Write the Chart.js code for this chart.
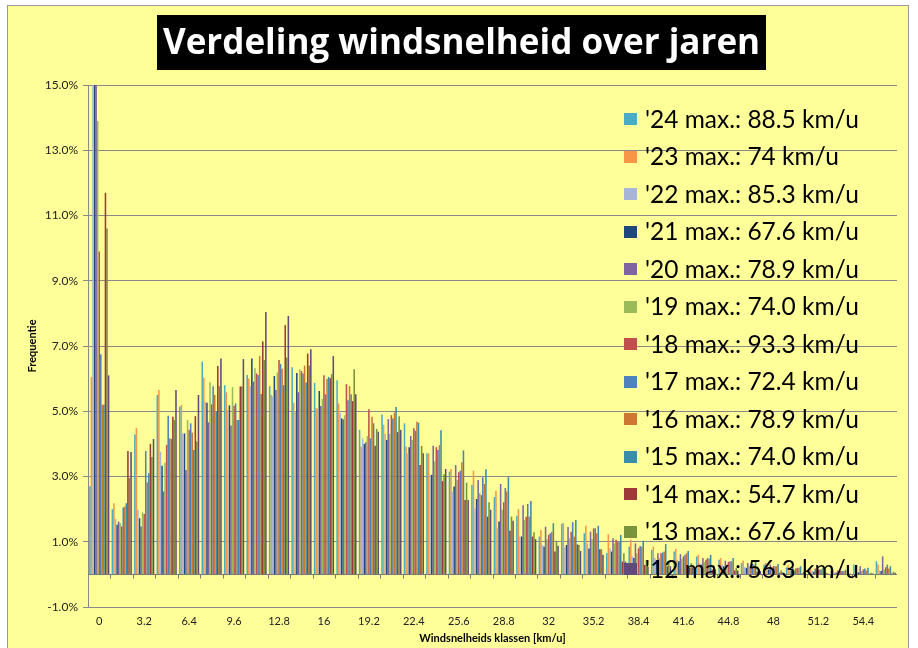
<!DOCTYPE html>
<html>
<head>
<meta charset="utf-8">
<script src="https://cdn.jsdelivr.net/npm/chart.js@4.4.1/dist/chart.umd.min.js"></script>
<style>
  html, body { margin: 0; padding: 0; background: #fff; }
</style>
</head>
<body>
<canvas id="chart" width="918" height="648"></canvas>
<script>
// windsnelheid klassen (km/u)
const categories = ['0', '1.6', '3.2', '4.8', '6.4', '8', '9.6', '11.2', '12.8', '14.4', '16', '17.6',
  '19.2', '20.8', '22.4', '24', '25.6', '27.2', '28.8', '30.4', '32', '33.6', '35.2', '36.8',
  '38.4', '40', '41.6', '43.2', '44.8', '46.4', '48', '49.6', '51.2', '52.8', '54.4', '56'];

const years = ["'24", "'23", "'22", "'21", "'20", "'19", "'18", "'17", "'16", "'15", "'14", "'13", "'12"];
const maxSpeeds = ['88.5', '74', '85.3', '67.6', '78.9', '74.0', '93.3', '72.4', '78.9', '74.0', '54.7', '67.6', '56.3'];
const colors = ['#4BACC6', '#F79646', '#A7B4D8', '#1F497D', '#8064A2', '#9BBB59', '#C0504D',
  '#4F81BD', '#CC7832', '#3A8CA8', '#9B3A38', '#77933C', '#604A7B'];

// frequentie in %
const f24 = [2.7, 2.0, 4.29, 5.5, 5.14, 6.52, 5.8, 6.11, 5.77, 6.35, 5.87, 5.95, 4.43, 4.9, 4.63, 3.71, 3.15, 2.74, 2.37, 1.8, 1.16, 1.55, 1.26, 0.65, 0.85, 0.75, 0.7, 0.55, 0.45, 0.35, 0.3, 0.22, 0.18, 0.12, 0.3, 0.4];
const f23 = [6.05, 2.18, 4.49, 5.65, 5.19, 6.03, 5.58, 6.0, 5.5, 5.26, 5.09, 5.24, 3.91, 4.58, 3.91, 3.71, 3.23, 3.18, 2.56, 2.0, 1.36, 1.57, 1.49, 1.23, 1.06, 0.85, 0.78, 0.6, 0.5, 0.42, 0.35, 0.28, 0.2, 0.15, 0.2, 0.3];
const f22 = [16, 1.7, 1.98, 3.76, 4.32, 5.29, 5.04, 5.77, 5.45, 5.0, 5.09, 4.94, 4.17, 4.3, 3.71, 3.05, 2.54, 2.02, 1.43, 1.16, 0.9, 0.82, 0.95, 0.8, 0.55, 0.5, 0.45, 0.35, 0.3, 0.22, 0.18, 0.12, 0.1, 0.06, 0.08, 0.12];
const f21 = [17, 1.52, 1.72, 3.33, 4.32, 5.26, 5.18, 6.62, 6.08, 6.17, 5.62, 4.78, 4.0, 4.12, 3.9, 3.05, 2.69, 2.31, 1.62, 1.16, 0.85, 0.9, 0.79, 0.7, 0.5, 0.44, 0.4, 0.3, 0.25, 0.2, 0.15, 0.1, 0.08, 0.05, 0.06, 0.1];
const f20 = [15.5, 1.62, 1.47, 2.54, 3.2, 4.66, 4.56, 5.91, 5.65, 5.58, 5.16, 4.75, 4.05, 4.76, 4.24, 3.94, 3.35, 2.89, 2.77, 2.12, 1.46, 1.45, 1.31, 1.11, 0.95, 0.65, 0.62, 0.5, 0.42, 0.35, 0.3, 0.22, 0.18, 0.12, 0.25, 0.55];
const f19 = [13.9, 1.57, 1.9, 3.42, 4.73, 5.89, 5.74, 6.32, 6.19, 6.28, 5.38, 4.88, 4.24, 4.3, 4.12, 3.47, 2.89, 2.49, 1.98, 1.67, 1.08, 1.11, 1.08, 0.95, 0.65, 0.5, 0.48, 0.38, 0.3, 0.25, 0.2, 0.15, 0.1, 0.08, 0.1, 0.15];
const f18 = [9.9, 1.47, 1.85, 3.97, 4.43, 5.21, 5.17, 6.16, 6.57, 6.23, 6.1, 5.83, 5.06, 4.88, 4.48, 3.9, 3.13, 2.43, 2.21, 1.77, 1.21, 1.31, 1.41, 1.06, 0.8, 0.65, 0.55, 0.45, 0.38, 0.3, 0.25, 0.18, 0.14, 0.1, 0.15, 0.22];
const f17 = [6.75, 2.05, 3.78, 4.86, 4.63, 5.77, 5.24, 6.11, 6.45, 6.16, 5.52, 5.34, 4.17, 4.78, 4.4, 3.81, 3.18, 2.98, 2.65, 2.16, 1.26, 1.6, 1.41, 0.99, 0.87, 0.67, 0.6, 0.5, 0.4, 0.32, 0.25, 0.2, 0.15, 0.1, 0.18, 0.3];
const f16 = [5.2, 2.08, 2.82, 4.17, 4.34, 5.5, 4.73, 6.69, 6.3, 6.4, 5.99, 5.77, 4.83, 4.96, 4.68, 3.96, 3.44, 2.77, 2.54, 1.77, 1.31, 1.16, 1.26, 0.99, 0.85, 0.7, 0.65, 0.48, 0.4, 0.3, 0.25, 0.2, 0.15, 0.1, 0.12, 0.18];
const f15 = [5.2, 2.18, 3.1, 4.15, 3.81, 4.99, 4.73, 5.53, 5.8, 5.88, 6.05, 5.52, 4.63, 5.13, 4.65, 4.42, 3.8, 3.22, 2.98, 2.25, 1.57, 1.67, 1.49, 1.21, 1.03, 0.93, 0.72, 0.6, 0.5, 0.4, 0.32, 0.25, 0.2, 0.14, 0.2, 0.25];
const f14 = [11.7, 3.78, 4.0, 4.83, 4.85, 6.39, 5.76, 7.14, 7.64, 6.77, 6.01, 5.31, 3.94, 4.36, 3.35, 2.86, 2.28, 1.77, 1.34, 1.16, 0.7, 0.92, 0.77, 0.39, 0.29, 0.25, 0.2, 0.15, 0.12, 0.08, 0.05, 0.03, 0.02, 0.01, 0.02, 0.03];
const f13 = [10.6, 2.95, 3.6, 4.73, 4.07, 5.77, 5.77, 6.57, 6.65, 6.4, 6.14, 6.29, 4.46, 4.85, 3.94, 3.07, 2.81, 2.21, 1.77, 1.29, 1.03, 0.9, 0.77, 0.65, 0.44, 0.4, 0.35, 0.28, 0.2, 0.15, 0.12, 0.08, 0.05, 0.04, 0.05, 0.08];
const f12 = [6.1, 3.75, 4.15, 5.65, 5.5, 6.62, 6.6, 8.04, 7.92, 6.9, 6.69, 5.52, 4.37, 4.43, 3.71, 3.23, 2.28, 1.98, 1.64, 1.08, 0.88, 0.72, 0.6, 0.39, 0.24, 0.25, 0.22, 0.15, 0.12, 0.1, 0.06, 0.04, 0.03, 0.02, 0.03, 0.05];

const series = [f24, f23, f22, f21, f20, f19, f18, f17, f16, f15, f14, f13, f12];
const yTicks = { min: -1, max: 15, step: 2 };

const FONT = "Lato, 'DejaVu Sans', sans-serif";
const TITLE_FONT = "'Open Sans', Lato, sans-serif";
const TITLE = 'Verdeling windsnelheid over jaren';
const TITLE_SIZE = 35;
const GRID = '#8a8a8a';

// yellow panel, frame and the black box behind the title
const backdrop = {
  id: 'backdrop',
  beforeDraw(chart) {
    const ctx = chart.ctx;
    ctx.save();
    ctx.fillStyle = '#fff';
    ctx.fillRect(0, 0, chart.width, chart.height);
    ctx.fillStyle = '#FFFF99';
    ctx.fillRect(7, 5, 901, 660);
    ctx.strokeStyle = '#9a9a9a';
    ctx.lineWidth = 1;
    ctx.strokeRect(7.5, 5.5, 901, 660);
    ctx.font = `bold ${TITLE_SIZE}px ${TITLE_FONT}`;
    const w = ctx.measureText(TITLE).width + 12;
    const cx = chart.titleBlock ? (chart.titleBlock.left + chart.titleBlock.right) / 2 : chart.width / 2;
    ctx.fillStyle = '#000';
    ctx.fillRect(Math.round(cx - w / 2), 15, Math.round(w), 55);
    ctx.restore();
  }
};

// zero line with category tick marks, then the legend inside the plot
const overlay = {
  id: 'overlay',
  afterDatasetsDraw(chart) {
    const ctx = chart.ctx;
    const x = chart.scales.x;
    const y = chart.scales.y;
    const y0 = Math.round(y.getPixelForValue(0)) + 0.5;
    ctx.save();
    ctx.strokeStyle = '#7a7a7a';
    ctx.lineWidth = 1;
    ctx.beginPath();
    ctx.moveTo(x.left, y0);
    ctx.lineTo(x.right, y0);
    const step = (x.right - x.left) / categories.length;
    for (let i = 1; i < categories.length; i++) {
      const px = Math.round(x.left + i * step) + 0.5;
      ctx.moveTo(px, y0);
      ctx.lineTo(px, y0 + 4);
    }
    ctx.stroke();

    ctx.font = `24.5px ${FONT}`;
    ctx.textBaseline = 'middle';
    chart.data.datasets.forEach((ds, i) => {
      const cy = 119 + i * 37.5;
      ctx.fillStyle = ds.backgroundColor;
      ctx.fillRect(624, Math.round(cy - 6), 13, 12);
      ctx.fillStyle = '#000';
      ctx.fillText(ds.label, 645, cy + 1);
    });
    ctx.restore();
  }
};

const datasets = series.map((data, i) => ({
  label: `${years[i]} max.: ${maxSpeeds[i]} km/u`,
  data,
  backgroundColor: colors[i],
  borderWidth: 0,
  categoryPercentage: 0.9,
  barPercentage: 1.0,
}));

new Chart(document.getElementById('chart'), {
  type: 'bar',
  data: { labels: categories, datasets },
  options: {
    responsive: false,
    devicePixelRatio: 1,
    animation: false,
    layout: { padding: { left: 26, right: 21, top: 0, bottom: 0 } },
    plugins: {
      legend: { display: false },
      tooltip: { enabled: false },
      title: {
        display: true,
        text: TITLE,
        color: '#fff',
        font: { family: TITLE_FONT, size: TITLE_SIZE, weight: 'bold', lineHeight: 1.2 },
        padding: { top: 23, bottom: 20 },
      },
    },
    scales: {
      x: {
        grid: { display: false, drawTicks: false },
        border: { display: false },
        ticks: {
          autoSkip: false,
          maxRotation: 0,
          padding: 8,
          color: '#222',
          font: { family: FONT, size: 11 },
          callback: (v, i) => (i % 2 === 0 ? categories[i] : ''),
        },
        title: {
          display: true,
          text: 'Windsnelheids klassen [km/u]',
          color: '#000',
          font: { family: FONT, size: 11, weight: 'bold' },
          padding: { top: 0, bottom: 3 },
        },
        afterFit(axis) { axis.height = 41; },
      },
      y: {
        min: yTicks.min,
        max: yTicks.max,
        grid: { color: GRID, lineWidth: 1, drawTicks: true, tickLength: 5 },
        border: { display: true, color: GRID },
        ticks: {
          stepSize: yTicks.step,
          padding: 5,
          color: '#222',
          font: { family: FONT, size: 12 },
          callback: (v) => v.toFixed(1) + '%',
        },
        title: {
          display: true,
          text: 'Frequentie',
          color: '#000',
          font: { family: FONT, size: 11, weight: 'bold' },
          padding: { top: 0, bottom: 0 },
        },
        afterFit(axis) { axis.width = 62; },
      },
    },
  },
  plugins: [backdrop, overlay],
});
</script>
</body>
</html>
